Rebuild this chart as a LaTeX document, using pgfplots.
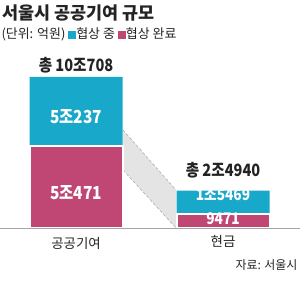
\documentclass[border=0pt]{standalone}
\usepackage{pgfplots}
\pgfplotsset{compat=1.18}
\usepackage{fontspec}
\setmainfont{Noto Sans CJK KR}
\definecolor{cy}{RGB}{24,168,201}
\definecolor{pk}{RGB}{192,70,115}
\definecolor{band}{RGB}{228,228,228}
\definecolor{txt}{RGB}{35,35,35}
\newcommand{\nar}[1]{\scalebox{0.86}[1]{#1}}
\begin{document}
\begin{tikzpicture}[x=1bp,y=1bp]
\path[use as bounding box] (0,0) rectangle (300,287);
\begin{axis}[at={(0,0)},anchor=south west,width=300bp,height=287bp,scale only axis,
  hide axis,xmin=0,xmax=300,ymin=-39347,ymax=152053,clip=false]
\addplot[fill=band,draw=none] coordinates {(123,65356) (176,25342) (176,0) (123,38680)} -- cycle;
\addplot[densely dashed,gray!70,line width=0.5bp] coordinates {(123,65356) (176,25342)};
\addplot[densely dashed,gray!70,line width=0.5bp] coordinates {(123,38680) (176,0)};
% totals (cyan = 협상 중 on top of 협상 완료)
\addplot[ybar,bar width=93,bar shift=0pt,fill=cy,draw=none] coordinates {(76,100708) (223,24940)};
% 협상 완료
\addplot[ybar,bar width=93,bar shift=0pt,fill=pk,draw=white,line width=2bp] coordinates {(76,54471) (223,9471)};
\addplot[gray!70,line width=0.6bp] coordinates {(0,0) (300,0)};
\end{axis}
\node[anchor=west,text=txt,font=\bfseries\fontsize{17.5}{17.5}\selectfont] at (-1,274) {서울시 공공기여 규모};
\node[anchor=west,text=txt,font=\fontsize{13}{13}\selectfont] at (-2,253) {(단위: 억원) \textcolor{cy}{\rule[-0.5bp]{8bp}{8bp}}협상 중 \textcolor{pk}{\rule[-0.5bp]{8bp}{8bp}}협상 완료};
\node[text=txt,font=\bfseries\fontsize{17}{17}\selectfont] at (76,222) {\nar{총 10조708}};
\node[text=txt,font=\bfseries\fontsize{17}{17}\selectfont] at (223,117) {\nar{총 2조4940}};
\node[text=white,font=\bfseries\fontsize{18}{18}\selectfont] at (76,170) {\nar{5조237}};
\node[text=white,font=\bfseries\fontsize{18}{18}\selectfont] at (76,94) {\nar{5조471}};
\node[text=white,font=\bfseries\fontsize{16}{16}\selectfont] at (223,93) {\nar{1조5469}};
\node[text=white,font=\bfseries\fontsize{16}{16}\selectfont] at (223,68) {\nar{9471}};
\node[text=txt,font=\fontsize{13.5}{13.5}\selectfont] at (76,44) {공공기여};
\node[text=txt,font=\fontsize{13.5}{13.5}\selectfont] at (223,46) {현금};
\node[anchor=east,text=txt,font=\fontsize{12}{12}\selectfont] at (301,22) {자료: 서울시};
\end{tikzpicture}
\end{document}
